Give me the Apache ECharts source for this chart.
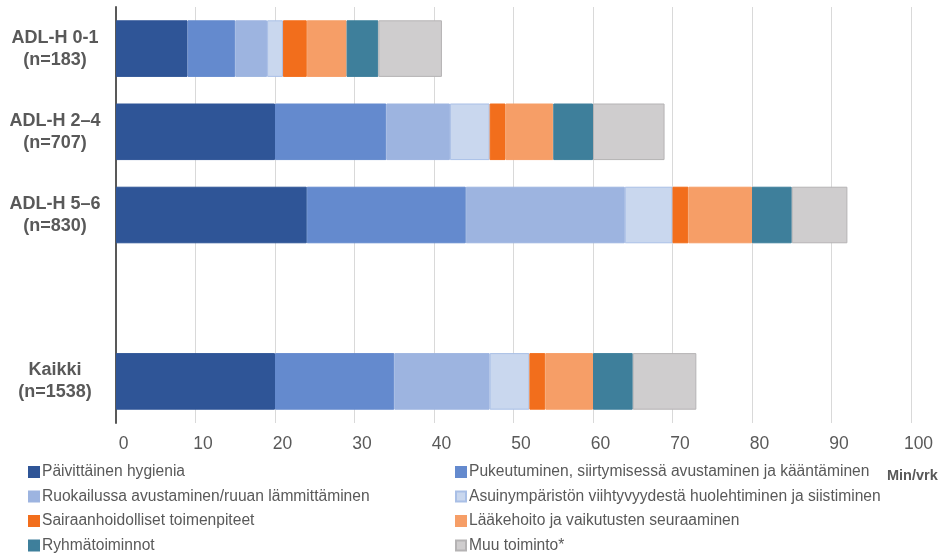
<!DOCTYPE html>
<html>
<head>
<meta charset="utf-8">
<script src="https://cdn.jsdelivr.net/npm/echarts@6/dist/echarts.min.js"></script>
<style>
  html, body { margin: 0; padding: 0; background: #fff; }
  #chart { width: 943px; height: 557px; }
</style>
</head>
<body>
<div id="chart"></div>
<script>
// Groups (top to bottom); the empty entry leaves a gap before the total row
const categories = ['ADL-H 0-1\n(n=183)', 'ADL-H 2–4\n(n=707)', 'ADL-H 5–6\n(n=830)', '', 'Kaikki\n(n=1538)'];

// Minutes per day by activity
const hygienia       = [9, 20, 24, null, 20];
const pukeutuminen   = [6, 14, 20, null, 15];
const ruokailu       = [4, 8, 20, null, 12];
const asuinymparisto = [2, 5, 6, null, 5];
const sairaanhoito   = [3, 2, 2, null, 2];
const laakehoito     = [5, 6, 8, null, 6];
const ryhma          = [4, 5, 5, null, 5];
const muu            = [8, 9, 7, null, 8];

const xTicks = { min: 0, max: 100, interval: 10 };

const seriesDefs = [
  { name: 'Päivittäinen hygienia', data: hygienia, color: '#2F5597', border: '#2F5597' },
  { name: 'Pukeutuminen, siirtymisessä avustaminen ja kääntäminen', data: pukeutuminen, color: '#648ACE', border: '#648ACE' },
  { name: 'Ruokailussa avustaminen/ruuan lämmittäminen', data: ruokailu, color: '#9DB4E0', border: '#9DB4E0' },
  { name: 'Asuinympäristön viihtyvyydestä huolehtiminen ja siistiminen', data: asuinymparisto, color: '#C9D7EE', border: '#A9BFE6' },
  { name: 'Sairaanhoidolliset toimenpiteet', data: sairaanhoito, color: '#F26E1C', border: '#F26E1C' },
  { name: 'Lääkehoito ja vaikutusten seuraaminen', data: laakehoito, color: '#F69E67', border: '#F69E67' },
  { name: 'Ryhmätoiminnot', data: ryhma, color: '#3E7F9B', border: '#3E7F9B' },
  { name: 'Muu toiminto*', data: muu, color: '#CFCDCE', border: '#B5B3B4' }
];

const textColor = '#595959';
const font = 'Liberation Sans, Arial, sans-serif';

// Legend: two columns, four rows
const legendCols = [28, 455];
const legendRows = [464, 488.5, 513, 537.5];
const legends = seriesDefs.map((s, i) => ({
  left: legendCols[i % 2],
  top: legendRows[Math.floor(i / 2)],
  data: [s.name],
  icon: 'rect',
  itemWidth: 10,
  itemHeight: 10,
  itemGap: 0,
  padding: 0,
  selectedMode: false,
  textStyle: { color: textColor, fontSize: 15.6, fontFamily: font, padding: [0, 0, 0, -2] }
}));

const chart = echarts.init(document.getElementById('chart'), null, { renderer: 'canvas' });
chart.setOption({
  animation: false,
  backgroundColor: '#ffffff',
  grid: { left: 116, right: 32, top: 7, height: 416, containLabel: false },
  xAxis: {
    type: 'value',
    min: xTicks.min, max: xTicks.max, interval: xTicks.interval,
    axisLine: { show: false },
    axisTick: { show: false },
    splitLine: { lineStyle: { color: '#D9D9D9', width: 1 } },
    axisLabel: { color: textColor, fontSize: 17.5, fontFamily: font, margin: 12, padding: [0, 0, 0, 15] }
  },
  yAxis: {
    type: 'category',
    inverse: true,
    data: categories,
    axisTick: { show: false },
    axisLine: { lineStyle: { color: '#595959', width: 2 } },
    axisLabel: {
      color: textColor, fontSize: 18, fontWeight: 'bold', fontFamily: font,
      align: 'center', margin: 61, lineHeight: 22
    }
  },
  legend: legends,
  graphic: [{
    type: 'text', left: 887, top: 468,
    style: { text: 'Min/vrk', fill: textColor, font: 'bold 14.5px Liberation Sans, Arial, sans-serif' }
  }],
  series: seriesDefs.map(s => ({
    name: s.name,
    type: 'bar',
    stack: 'total',
    data: s.data,
    barWidth: '68%',
    itemStyle: { color: s.color, borderColor: s.border, borderWidth: 1 },
    emphasis: { disabled: true }
  }))
});
</script>
</body>
</html>
